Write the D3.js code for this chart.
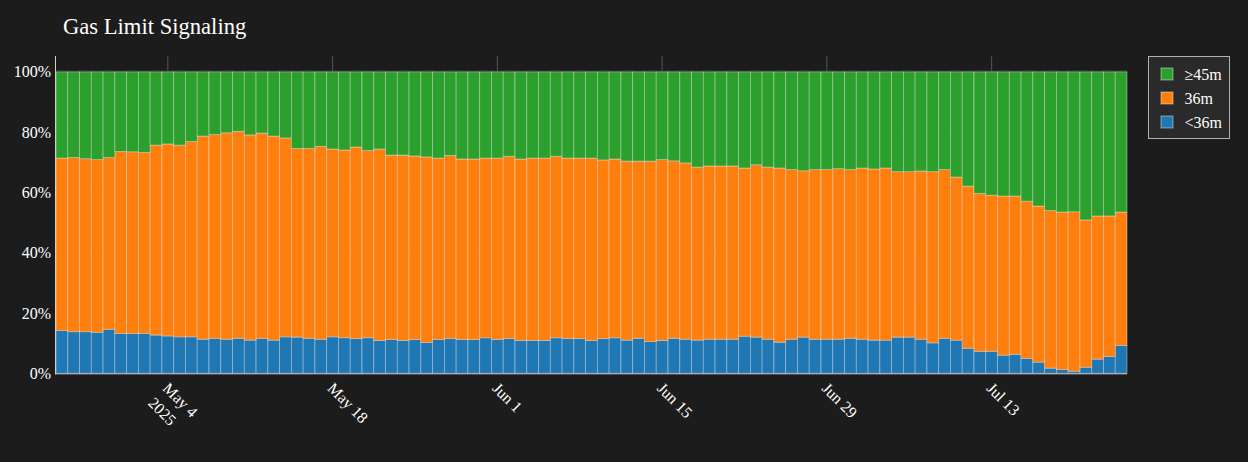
<!DOCTYPE html>
<html>
<head>
<meta charset="utf-8">
<script src="https://cdn.jsdelivr.net/npm/d3@7"></script>
<style>
  html, body { margin: 0; padding: 0; background: #1c1c1c; }
  svg { display: block; font-family: "Liberation Serif", "Times New Roman", serif; }
</style>
</head>
<body>
<div id="chart"></div>
<script>
// first day of the series, one bar per day
var startDate = "2025-04-25";
var dayCount = 91;

// share of validators per signalled gas limit, percent
var below36 = [14.2, 13.8, 13.8, 13.6, 14.6, 13.2, 13.2, 13.2, 12.7, 12.4, 12.1, 12.1, 11.3, 11.6, 11.3, 11.6, 11.0, 11.6, 11.0, 12.1,
  12.0, 11.6, 11.3, 12.1, 11.8, 11.5, 11.8, 10.9, 11.2, 10.9, 11.2, 10.2, 11.2, 11.5, 11.2, 11.2, 11.8, 11.2, 11.5, 10.9,
  10.9, 10.9, 11.8, 11.5, 11.5, 10.9, 11.5, 11.8, 11.0, 11.6, 10.5, 10.9, 11.6, 11.3, 11.0, 11.3, 11.3, 11.3, 12.3, 12.0,
  11.3, 10.3, 11.3, 12.0, 11.3, 11.3, 11.3, 11.6, 11.3, 11.0, 11.0, 12.0, 12.0, 11.3, 10.1, 11.6, 11.0, 8.3, 7.3, 7.3,
  6.0, 6.3, 4.9, 3.7, 1.7, 1.3, 0.7, 2.0, 4.7, 5.6, 9.2];
var at36 = [57.2, 57.8, 57.4, 57.3, 57.0, 60.4, 60.3, 60.1, 63.0, 63.7, 63.6, 64.8, 67.4, 67.6, 68.5, 68.7, 68.1, 68.1, 67.7, 66.0,
  62.6, 63.0, 64.0, 62.3, 62.3, 63.6, 62.1, 63.5, 61.2, 61.5, 60.9, 61.6, 60.2, 60.8, 59.9, 59.9, 59.6, 60.2, 60.5, 60.2,
  60.5, 60.5, 60.2, 59.9, 59.9, 60.5, 59.3, 59.3, 59.4, 58.8, 59.9, 60.0, 58.9, 58.5, 57.4, 57.5, 57.5, 57.5, 55.8, 57.2,
  57.1, 57.8, 56.3, 55.2, 56.3, 56.3, 56.6, 56.0, 56.8, 56.8, 57.1, 54.9, 54.9, 55.8, 56.8, 56.0, 54.1, 53.8, 52.4, 51.8,
  52.8, 52.5, 52.2, 51.8, 52.3, 52.2, 52.9, 48.9, 47.5, 46.6, 44.3];
var atLeast45 = [28.6, 28.4, 28.8, 29.1, 28.4, 26.4, 26.5, 26.7, 24.3, 23.9, 24.3, 23.1, 21.3, 20.8, 20.2, 19.7, 20.9, 20.3, 21.3, 21.9,
  25.4, 25.4, 24.7, 25.6, 25.9, 24.9, 26.1, 25.6, 27.6, 27.6, 27.9, 28.2, 28.6, 27.7, 28.9, 28.9, 28.6, 28.6, 28.0, 28.9,
  28.6, 28.6, 28.0, 28.6, 28.6, 28.6, 29.2, 28.9, 29.6, 29.6, 29.6, 29.1, 29.5, 30.2, 31.6, 31.2, 31.2, 31.2, 31.9, 30.8,
  31.6, 31.9, 32.4, 32.8, 32.4, 32.4, 32.1, 32.4, 31.9, 32.2, 31.9, 33.1, 33.1, 32.9, 33.1, 32.4, 34.9, 37.9, 40.3, 40.9,
  41.2, 41.2, 42.9, 44.5, 46.0, 46.5, 46.4, 49.1, 47.8, 47.8, 46.5];

var seriesKeys = ["lt36", "eq36", "ge45"];
var seriesNames = ["<36m", "36m", "≥45m"];
var seriesColors = ["#1f77b4", "#ff7f0e", "#2ca02c"];

var xTicks = ["2025-05-04", "2025-05-18", "2025-06-01", "2025-06-15", "2025-06-29", "2025-07-13"];
var yTicks = [0, 0.2, 0.4, 0.6, 0.8, 1];

function init() {
  var w = 1248, h = 462;
  var left = 56, right = 1127, top = 56, bottom = 373.3;

  var parse = d3.utcParse("%Y-%m-%d");
  var first = parse(startDate);
  var days = d3.utcDay.range(first, d3.utcDay.offset(first, dayCount));

  var rows = days.map(function(d, i) {
    return { date: d, lt36: below36[i], eq36: at36[i], ge45: atLeast45[i] };
  });

  var stack = d3.stack().keys(seriesKeys).offset(d3.stackOffsetExpand);
  var series = stack(rows);

  var halfDay = 12 * 3600 * 1000;
  var xScale = d3.scaleUtc()
    .domain([new Date(+days[0] - halfDay), new Date(+days[days.length - 1] + halfDay)])
    .range([left, right]);

  var yScale = d3.scaleLinear()
    .domain([0, 1 / 0.95])
    .range([bottom, top]);

  var svg = d3.select("#chart").append("svg")
    .attr("width", w)
    .attr("height", h);

  svg.append("rect").attr("width", w).attr("height", h).attr("fill", "#1c1c1c");

  // title
  svg.append("text")
    .attr("x", 63).attr("y", 34)
    .attr("fill", "#ffffff")
    .style("font-size", "22.6px")
    .text("Gas Limit Signaling");

  var tickDates = xTicks.map(parse);

  // grid lines
  svg.append("g").selectAll("line.xg")
    .data(tickDates).enter().append("line")
    .attr("x1", function(d) { return xScale(d); })
    .attr("x2", function(d) { return xScale(d); })
    .attr("y1", top).attr("y2", bottom)
    .attr("stroke", "#555").attr("stroke-width", 1);

  svg.append("g").selectAll("line.yg")
    .data(yTicks).enter().append("line")
    .attr("x1", left).attr("x2", right)
    .attr("y1", function(d) { return yScale(d) - 1; })
    .attr("y2", function(d) { return yScale(d) - 1; })
    .attr("stroke", "#3a3a3a").attr("stroke-width", 1);

  // stacked bars
  var groups = svg.append("g").selectAll("g")
    .data(series).enter().append("g")
    .attr("fill", function(d, i) { return seriesColors[i]; });

  groups.selectAll("rect")
    .data(function(d) { return d; })
    .enter().append("rect")
    .attr("x", function(d) { return xScale(new Date(+d.data.date - halfDay)); })
    .attr("y", function(d) { return yScale(d[1]); })
    .attr("width", function(d) { return xScale(new Date(+d.data.date + halfDay)) - xScale(new Date(+d.data.date - halfDay)); })
    .attr("height", function(d) { return yScale(d[0]) - yScale(d[1]); })
    .attr("stroke", "rgba(255,255,255,0.45)")
    .attr("stroke-width", 0.8);

  // axis lines
  svg.append("line")
    .attr("x1", left - 0.5).attr("x2", left - 0.5)
    .attr("y1", top).attr("y2", bottom + 1)
    .attr("stroke", "#d0d0d0").attr("stroke-width", 1);
  svg.append("line")
    .attr("x1", left - 1).attr("x2", right)
    .attr("y1", bottom + 0.5).attr("y2", bottom + 0.5)
    .attr("stroke", "#c8c8c8").attr("stroke-width", 1);

  // y tick labels
  svg.append("g").selectAll("text")
    .data(yTicks).enter().append("text")
    .attr("x", left - 5)
    .attr("y", function(d) { return yScale(d); })
    .attr("dy", "0.35em")
    .attr("text-anchor", "end")
    .attr("fill", "#ffffff")
    .style("font-size", "16px")
    .text(d3.format(".0%"));

  // x tick labels, rotated
  var fmt = d3.utcFormat("%b %-d");
  var xl = svg.append("g").selectAll("text")
    .data(tickDates).enter().append("text")
    .attr("transform", function(d) { return "translate(" + (xScale(d) - 2) + "," + (bottom + 12) + ") rotate(45)"; })
    .attr("fill", "#ffffff")
    .style("font-size", "16px");
  xl.append("tspan").attr("x", 0).attr("dy", "0.35em").text(function(d) { return fmt(d); });
  xl.filter(function(d, i) { return i === 0; })
    .append("tspan").attr("x", 0).attr("dy", "1.3em").text(function(d) { return d.getUTCFullYear(); });

  // legend
  var lg = svg.append("g").attr("transform", "translate(1148.5,56.5)");
  lg.append("rect")
    .attr("width", 81).attr("height", 82)
    .attr("fill", "#2a2a2a")
    .attr("stroke", "#b0b0b0").attr("stroke-width", 1);

  var order = [2, 1, 0];
  var items = lg.selectAll("g.item")
    .data(order).enter().append("g")
    .attr("transform", function(d, i) { return "translate(0," + (17.5 + i * 24) + ")"; });
  items.append("rect")
    .attr("x", 12.5).attr("y", -6).attr("width", 12).attr("height", 12)
    .attr("fill", function(d) { return seriesColors[d]; })
    .attr("stroke", "rgba(255,255,255,0.45)").attr("stroke-width", 1);
  items.append("text")
    .attr("x", 36).attr("dy", "0.35em")
    .attr("fill", "#ffffff")
    .style("font-size", "16px")
    .text(function(d) { return seriesNames[d]; });
}
window.onload = init;
</script>
</body>
</html>
